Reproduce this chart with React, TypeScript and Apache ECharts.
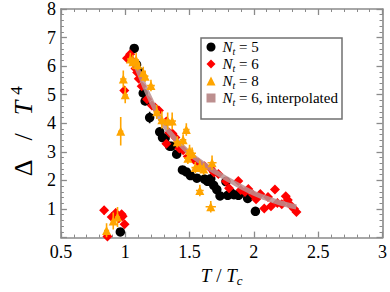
import React, { useEffect, useRef } from 'react';
import * as echarts from 'echarts';

const SERIF = '"Liberation Serif", "DejaVu Serif", "Times New Roman", serif';

// axis ranges
const xMin = 0.5;
const xMax = 3;
const xStep = 0.5;
const yMin = 0;
const yMax = 8;
const yStep = 1;

// [T/Tc, Δ/T^4, xerr, yerr]
const nt5: number[][] = [
  [0.962, 0.2, 0, 0.12],
  [1.07, 6.62, 0, 0.12],
  [1.088, 6.05, 0, 0.12],
  [1.11, 5.8, 0, 0.12],
  [1.14, 5.06, 0, 0.15],
  [1.155, 4.78, 0, 0.15],
  [1.19, 4.2, 0, 0.2],
  [1.268, 3.7, 0, 0.12],
  [1.29, 3.5, 0, 0.1],
  [1.31, 3.48, 0, 0.1],
  [1.345, 3.2, 0, 0.15],
  [1.36, 3.2, 0, 0.12],
  [1.4, 2.92, 0, 0.1],
  [1.445, 2.37, 0, 0.12],
  [1.475, 2.3, 0, 0.12],
  [1.507, 2.17, 0, 0.1],
  [1.557, 2.08, 0, 0.12],
  [1.616, 2.05, 0, 0.1],
  [1.64, 1.97, 0, 0.1],
  [1.665, 2.06, 0, 0.1],
  [1.688, 1.83, 0, 0.1],
  [1.712, 1.68, 0, 0.1],
  [1.737, 1.46, 0, 0.08],
  [1.783, 1.96, 0, 0.1],
  [1.797, 1.48, 0, 0.08],
  [1.825, 1.56, 0, 0.08],
  [1.845, 1.5, 0, 0.08],
  [1.88, 1.48, 0, 0.08],
  [1.893, 1.55, 0, 0.08],
  [1.952, 1.37, 0, 0.08],
  [2.012, 0.92, 0, 0.12],
];

const nt6: number[][] = [
  [0.836, 0.96, 0.01, 0.15],
  [0.862, 0.04, 0.01, 0.1],
  [0.895, 0.72, 0.01, 0.12],
  [0.926, 0.86, 0.01, 0.15],
  [0.95, 0.68, 0.01, 0.15],
  [0.972, 0.82, 0.01, 0.12],
  [0.98, 0.75, 0.01, 0.12],
  [0.995, 0.47, 0.01, 0.12],
  [0.993, 5.15, 0.01, 0.15],
  [1.014, 6.28, 0.01, 0.12],
  [1.038, 6.42, 0.01, 0.12],
  [1.048, 6.22, 0.01, 0.12],
  [1.08, 5.92, 0.01, 0.1],
  [1.093, 5.78, 0.01, 0.1],
  [1.105, 5.56, 0.01, 0.1],
  [1.128, 5.3, 0.01, 0.1],
  [1.17, 4.84, 0.01, 0.1],
  [1.207, 4.62, 0.01, 0.1],
  [1.232, 4.55, 0.01, 0.1],
  [1.262, 4.45, 0.01, 0.1],
  [1.32, 4.06, 0.01, 0.1],
  [1.32, 3.28, 0.01, 0.1],
  [1.343, 3.67, 0.01, 0.1],
  [1.367, 3.64, 0.01, 0.1],
  [1.39, 3.5, 0.01, 0.1],
  [1.421, 3.12, 0.01, 0.1],
  [1.45, 3.06, 0.01, 0.1],
  [1.486, 2.84, 0.01, 0.1],
  [1.533, 2.73, 0.01, 0.1],
  [1.569, 2.62, 0.01, 0.1],
  [1.617, 2.5, 0.01, 0.1],
  [1.664, 2.42, 0.01, 0.1],
  [1.69, 2.28, 0.01, 0.1],
  [1.724, 2.23, 0.01, 0.1],
  [1.783, 1.97, 0.01, 0.1],
  [1.807, 1.73, 0.01, 0.1],
  [1.879, 1.98, 0.01, 0.1],
  [1.898, 1.67, 0.01, 0.1],
  [1.931, 1.6, 0.01, 0.1],
  [1.957, 1.7, 0.01, 0.1],
  [1.993, 1.5, 0.01, 0.1],
  [2.017, 1.34, 0.01, 0.1],
  [2.05, 1.53, 0.01, 0.1],
  [2.081, 1.02, 0.01, 0.1],
  [2.11, 1.42, 0.01, 0.1],
  [2.133, 1.1, 0.01, 0.1],
  [2.164, 1.68, 0.01, 0.1],
  [2.183, 1.21, 0.01, 0.1],
  [2.217, 1.17, 0.01, 0.1],
  [2.248, 1.45, 0.01, 0.1],
  [2.264, 1.32, 0.01, 0.1],
  [2.288, 1.12, 0.01, 0.1],
  [2.312, 1.01, 0.01, 0.1],
  [2.331, 0.9, 0.01, 0.1],
];

const nt8: number[][] = [
  [0.855, 0.25, 0.02, 0.25],
  [0.907, 0.58, 0.02, 0.3],
  [0.94, 0.72, 0.02, 0.35],
  [0.965, 3.72, 0.02, 0.5],
  [0.985, 5.55, 0.025, 0.3],
  [1.0, 5.0, 0.02, 0.3],
  [1.04, 6.25, 0.025, 0.22],
  [1.06, 6.15, 0.02, 0.25],
  [1.085, 6.22, 0.02, 0.25],
  [1.097, 6.05, 0.02, 0.2],
  [1.14, 5.78, 0.02, 0.2],
  [1.155, 5.65, 0.025, 0.2],
  [1.2, 5.32, 0.03, 0.2],
  [1.245, 4.4, 0.025, 0.25],
  [1.285, 4.12, 0.03, 0.3],
  [1.33, 4.08, 0.03, 0.3],
  [1.365, 4.08, 0.03, 0.3],
  [1.405, 3.35, 0.03, 0.2],
  [1.45, 3.42, 0.025, 0.2],
  [1.475, 3.78, 0.025, 0.22],
  [1.5, 3.05, 0.03, 0.2],
  [1.52, 2.95, 0.03, 0.2],
  [1.487, 2.78, 0.03, 0.2],
  [1.545, 2.45, 0.03, 0.2],
  [1.58, 2.5, 0.03, 0.2],
  [1.61, 2.4, 0.03, 0.2],
  [1.58, 1.65, 0.03, 0.2],
  [1.675, 2.62, 0.035, 0.25],
  [1.665, 1.08, 0.04, 0.2],
];

const interpX = [1.06, 1.1, 1.15, 1.2, 1.25, 1.3, 1.4, 1.5, 1.6, 1.7, 1.8, 1.9, 2.0, 2.1, 2.2, 2.33];
const interpY = [6.25, 5.85, 5.3, 4.8, 4.35, 3.95, 3.4, 2.95, 2.6, 2.3, 2.03, 1.78, 1.55, 1.37, 1.22, 1.07];

const legendLabels: Record<string, string> = {
  nt5: '{i|N}{sub|t}{n| = 5}',
  nt6: '{i|N}{sub|t}{n| = 6}',
  nt8: '{i|N}{sub|t}{n| = 8}',
  interp: '{i|N}{sub|t}{n| = 6, interpolated}',
};

const FRAME = '#8a8a8a';

function errorBars(data: number[][], color: string, z: number) {
  return {
    type: 'custom',
    z,
    silent: true,
    clip: true,
    encode: { x: 0, y: 1 },
    data,
    renderItem: (_p: any, api: any) => {
      const x = api.value(0);
      const y = api.value(1);
      const xe = api.value(2);
      const ye = api.value(3);
      const c = api.coord([x, y]);
      const children: any[] = [];
      if (ye > 0) {
        const t = api.coord([x, y + ye]);
        const b = api.coord([x, y - ye]);
        children.push({ type: 'line', shape: { x1: c[0], y1: t[1], x2: c[0], y2: b[1] }, style: { stroke: color, lineWidth: 1.6 } });
      }
      if (xe > 0) {
        const l = api.coord([x - xe, y]);
        const r = api.coord([x + xe, y]);
        children.push({ type: 'line', shape: { x1: l[0], y1: c[1], x2: r[0], y2: c[1] }, style: { stroke: color, lineWidth: 1.6 } });
      }
      return { type: 'group', children };
    },
  };
}

function axisStyle() {
  return {
    axisLine: { show: true, onZero: false, lineStyle: { color: FRAME, width: 1.6 } },
    axisTick: { show: true, inside: true, length: 6, lineStyle: { color: FRAME, width: 1.3 } },
    minorTick: { show: true, splitNumber: 5, length: 3, lineStyle: { color: FRAME, width: 1 } },
    splitLine: { show: false },
    minorSplitLine: { show: false },
  };
}

const labelFont = { fontFamily: SERIF, fontSize: 18, color: '#000' };

export default function App() {
  const ref = useRef<HTMLDivElement>(null);
  useEffect(() => {
    const chart = echarts.init(ref.current!, null, { renderer: 'svg' });
    const option: any = {
      animation: false,
      backgroundColor: '#fff',
      grid: { left: 38, right: 3, top: 7, bottom: 43, containLabel: false },
      xAxis: [
        {
          type: 'value', min: xMin, max: xMax, interval: xStep, position: 'bottom',
          ...axisStyle(),
          axisLabel: { ...labelFont, margin: 5 },
          name: '{i|T}{n| / }{i|T}{sub|c}',
          nameLocation: 'middle',
          nameGap: 2,
          nameTextStyle: {
            color: '#000', fontFamily: SERIF, fontSize: 19, verticalAlign: 'top',
            rich: {
              i: { fontFamily: SERIF, fontSize: 19, fontStyle: 'italic', lineHeight: 24, verticalAlign: 'middle', color: '#000' },
              n: { fontFamily: SERIF, fontSize: 19, lineHeight: 24, verticalAlign: 'middle', color: '#000' },
              sub: { fontFamily: SERIF, fontSize: 13, fontStyle: 'italic', lineHeight: 13, verticalAlign: 'bottom', color: '#000' },
            },
          },
        },
        {
          type: 'value', min: xMin, max: xMax, interval: xStep, position: 'top',
          ...axisStyle(),
          axisLabel: { show: false },
        },
      ],
      yAxis: [
        {
          type: 'value', min: yMin, max: yMax, interval: yStep, position: 'left',
          ...axisStyle(),
          axisLabel: { ...labelFont, margin: 5, formatter: (v: number) => (v === 0 ? '' : String(v)) },
          name: '{n|Δ}{s|/}{i|T}{sup|4}',
          nameLocation: 'middle',
          nameGap: 21,
          nameTextStyle: {
            color: '#000', fontFamily: SERIF, fontSize: 26,
            rich: {
              n: { fontFamily: SERIF, fontSize: 26, lineHeight: 30, verticalAlign: 'middle', color: '#000', padding: [0, 19, 0, 0] },
              s: { fontFamily: SERIF, fontSize: 26, lineHeight: 30, verticalAlign: 'middle', color: '#000', padding: [0, 18, 0, 0] },
              i: { fontFamily: SERIF, fontSize: 26, fontStyle: 'italic', lineHeight: 30, verticalAlign: 'middle', color: '#000', padding: [0, 6, 0, 0] },
              sup: { fontFamily: SERIF, fontSize: 17, lineHeight: 12, verticalAlign: 'top', color: '#000', padding: [0, 16, 0, 0] },
            },
          },
        },
        {
          type: 'value', min: yMin, max: yMax, interval: yStep, position: 'right',
          ...axisStyle(),
          axisLabel: { show: false },
        },
      ],
      graphic: [
        {
          type: 'rect', z: 50,
          shape: { x: 201, y: 38, width: 141, height: 81 },
          style: { fill: '#fff', stroke: '#707070', lineWidth: 1.5 },
        },
      ],
      legend: {
        z: 60,
        orient: 'vertical',
        left: 206.5,
        top: 39.5,
        padding: 0,
        itemGap: 0,
        itemWidth: 9,
        itemHeight: 9,
        data: [
          { name: 'nt5', icon: 'circle' },
          { name: 'nt6', icon: 'diamond' },
          { name: 'nt8', icon: 'triangle' },
          { name: 'interp', icon: 'rect' },
        ],
        formatter: (name: string) => legendLabels[name],
        textStyle: {
          fontFamily: SERIF, fontSize: 15, color: '#000',
          rich: {
            i: { fontFamily: SERIF, fontSize: 15, fontStyle: 'italic', lineHeight: 19, verticalAlign: 'middle', color: '#000', padding: [0, 0, 0, 2] },
            n: { fontFamily: SERIF, fontSize: 15, lineHeight: 19, verticalAlign: 'middle', color: '#000' },
            sub: { fontFamily: SERIF, fontSize: 10, fontStyle: 'italic', lineHeight: 10, verticalAlign: 'bottom', color: '#000' },
          },
        },
      },
      series: [
        errorBars(nt5, '#000', 2),
        {
          name: 'nt5', type: 'scatter', z: 3, symbol: 'circle', symbolSize: 9.5,
          data: nt5.map((d) => [d[0], d[1]]),
          itemStyle: { color: '#000', opacity: 1 },
        },
        errorBars(nt6, '#ff0000', 4),
        {
          name: 'nt6', type: 'scatter', z: 5, symbol: 'diamond', symbolSize: 10,
          data: nt6.map((d) => [d[0], d[1]]),
          itemStyle: { color: '#ff0000', opacity: 1 },
        },
        {
          name: 'interp', type: 'line', z: 6, smooth: true, showSymbol: false, silent: true,
          data: interpX.map((x, i) => [x, interpY[i]]),
          lineStyle: { color: '#bc8f8f', width: 5, opacity: 0.85 },
          itemStyle: { color: '#bc8f8f' },
        },
        errorBars(nt8, '#ffa500', 7),
        {
          name: 'nt8', type: 'scatter', z: 8, symbol: 'triangle', symbolSize: 9,
          data: nt8.map((d) => [d[0], d[1]]),
          itemStyle: { color: '#ffa500', opacity: 1 },
        },
      ],
    };
    chart.setOption(option);
    return () => chart.dispose();
  }, []);
  return <div ref={ref} style={{ position: 'fixed', left: 0, top: 0, width: 390, height: 292 }} />;
}
